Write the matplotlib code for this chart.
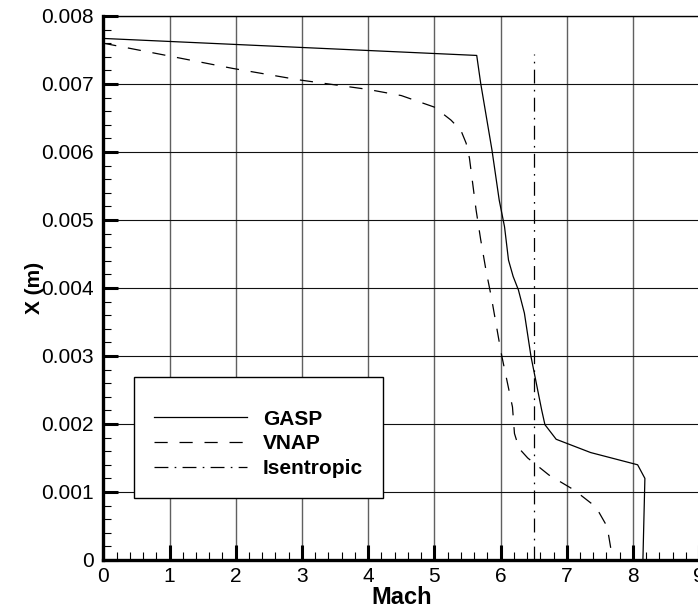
import matplotlib
matplotlib.use('Agg')
import matplotlib.pyplot as plt
from matplotlib.ticker import MultipleLocator

plt.rcParams['font.family'] = ['Liberation Sans', 'DejaVu Sans']
plt.rcParams['lines.scale_dashes'] = False

# GASP solution (solid)
gasp_mach = [0.0, 5.64, 5.70, 5.87, 5.98, 6.06, 6.12, 6.19, 6.27, 6.36, 6.46,
             6.62, 6.67, 6.84, 7.36, 8.07, 8.18, 8.15]
gasp_x = [0.00767, 0.00742, 0.00701, 0.00603, 0.00529, 0.00490, 0.00441, 0.00417,
          0.00397, 0.00363, 0.00299, 0.00221, 0.00199, 0.001775, 0.00158, 0.00140,
          0.00120, 0.0]

# VNAP solution (dashed)
vnap_mach = [0.0, 0.90, 1.95, 2.96, 4.0, 4.5, 5.0, 5.25, 5.40, 5.48, 5.53, 5.63,
             5.70, 5.78, 5.86, 6.01, 6.18, 6.21, 6.28, 6.41, 6.73, 7.11, 7.44,
             7.61, 7.66, 7.69]
vnap_x = [0.00760, 0.00743, 0.00723, 0.00706, 0.00692, 0.00683, 0.00666, 0.00647,
          0.00632, 0.00613, 0.00591, 0.00515, 0.00471, 0.00426, 0.00387, 0.00304,
          0.00225, 0.00186, 0.00164, 0.00150, 0.00125, 0.00103, 0.00078, 0.00049,
          0.00020, 0.0]

# Isentropic exit Mach (dash-dot)
isen_mach = [6.5, 6.5]
isen_x = [0.0, 0.00744]

xticks = [0, 1, 2, 3, 4, 5, 6, 7, 8, 9]
yticks = [0, 0.001, 0.002, 0.003, 0.004, 0.005, 0.006, 0.007, 0.008]
ytick_labels = ['0', '0.001', '0.002', '0.003', '0.004', '0.005', '0.006', '0.007', '0.008']

fig = plt.figure(figsize=(6.98, 6.13), dpi=100)
ax = fig.add_axes([0.1480, 0.0865, 0.8537, 0.8874])

for xv in xticks[1:]:
    ax.axvline(xv, color='#606060', lw=1.0, zorder=1)
for yv in yticks[1:]:
    ax.axhline(yv, color='#111111', lw=0.8, zorder=1)

ax.plot(gasp_mach, gasp_x, color='black', lw=0.9, label='GASP', zorder=3)
ax.plot(vnap_mach, vnap_x, color='black', lw=0.9, ls=(0, (9.5, 8.5)), label='VNAP', zorder=3)
ax.plot(isen_mach, isen_x, color='black', lw=0.9, ls=(0, (10, 4.5, 1.2, 4.5)),
        label='Isentropic', zorder=3)

ax.set_xlim(0, 9)
ax.set_ylim(0, 0.008)
ax.set_xticks(xticks)
ax.set_yticks(yticks)
ax.set_yticklabels(ytick_labels)
ax.xaxis.set_minor_locator(MultipleLocator(0.2))
ax.yaxis.set_minor_locator(MultipleLocator(0.0002))

ax.tick_params(which='major', direction='in', length=10.5, width=2.2,
               labelsize=15, top=False, right=False)
ax.tick_params(axis='x', which='major', pad=5)
ax.tick_params(axis='y', which='major', pad=7)
ax.tick_params(which='minor', direction='in', length=5.8, width=0.8,
               top=False, right=False)

for side in ['left', 'bottom']:
    ax.spines[side].set_linewidth(2.4)
for side in ['top', 'right']:
    ax.spines[side].set_linewidth(1.0)

ax.set_xlabel('Mach', fontsize=17, fontweight='bold', labelpad=0)
ax.set_ylabel('X (m)', fontsize=15, fontweight='bold', labelpad=-2)

leg = ax.legend(loc='lower left', bbox_to_anchor=(0.0513, 0.114), borderaxespad=0,
                prop={'size': 15, 'weight': 'bold'}, handlelength=4.5,
                handletextpad=0.75, borderpad=0.95, labelspacing=0.28,
                title=' ', title_fontsize=5,
                fancybox=False, framealpha=1, edgecolor='black')
leg.get_frame().set_linewidth(1.0)
leg.set_zorder(5)

fig.savefig('out.png', dpi=100)
